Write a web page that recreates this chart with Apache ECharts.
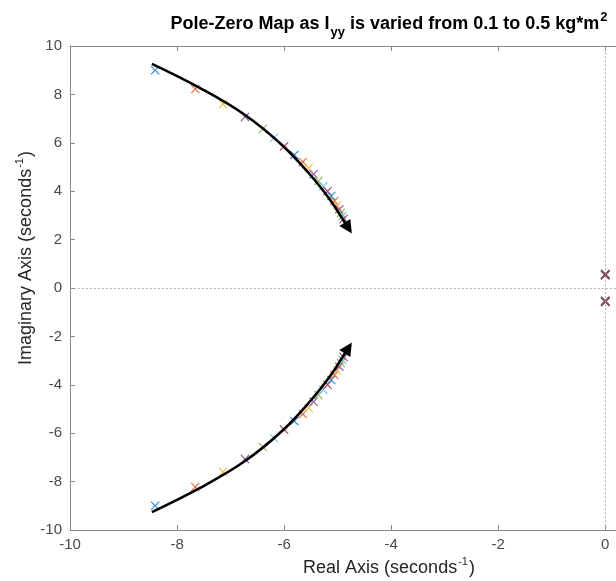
<!DOCTYPE html>
<html>
<head>
<meta charset="utf-8">
<script src="https://cdn.jsdelivr.net/npm/echarts@6/dist/echarts.min.js"></script>
<style>
  html, body { margin: 0; padding: 0; background: #ffffff; }
  #chart { width: 616px; height: 581px; }
</style>
</head>
<body>
<div id="chart"></div>
<script>
// Moment of inertia values (kg*m^2); one pole set is computed for each
const iyyValues = [0.10, 0.12, 0.14, 0.16, 0.18, 0.20, 0.22, 0.24, 0.26, 0.28, 0.30,
                   0.32, 0.34, 0.36, 0.38, 0.40, 0.42, 0.44, 0.46, 0.48, 0.50];

// Fast complex pole pair (upper half-plane; the lower pole is its conjugate)
const branchReal = [-8.41, -7.66, -7.14, -6.73, -6.40, -6.19, -6.00, -5.81, -5.65, -5.54, -5.45,
                    -5.36, -5.27, -5.19, -5.12, -5.06, -5.01, -4.97, -4.94, -4.91, -4.89];
const branchImag = [9.00, 8.22, 7.60, 7.07, 6.57, 6.20, 5.85, 5.50, 5.21, 4.96, 4.70,
                    4.42, 4.20, 4.00, 3.80, 3.60, 3.42, 3.25, 3.10, 2.97, 2.85];

// Slow pole pair sitting on the imaginary axis
const slowReal = [0, 0, 0, 0, 0, 0, 0, 0, 0, 0, 0, 0, 0, 0, 0, 0, 0, 0, 0, 0, 0];
const slowImag = [0.58, 0.58, 0.57, 0.57, 0.57, 0.56, 0.56, 0.56, 0.56, 0.55, 0.55,
                  0.55, 0.55, 0.55, 0.54, 0.54, 0.54, 0.54, 0.54, 0.54, 0.54];

// Direction arrow along the upper branch (lower arrow is mirrored); last point is the tip
const arrowReal = [-8.47, -7.57, -6.73, -6.04, -5.51, -5.14, -4.92, -4.80];
const arrowImag = [9.26, 8.26, 7.15, 5.91, 4.67, 3.64, 2.89, 2.48];

// Axis ranges and tick values
const xRange = [-10, 0.2];
const yRange = [-10, 10];
const xTicks = [-10, -8, -6, -4, -2, 0];
const yTicks = [-10, -8, -6, -4, -2, 0, 2, 4, 6, 8, 10];

// MATLAB default line color order
const colorOrder = ['#0072BD', '#D95319', '#EDB120', '#7E2F8E', '#77AC30', '#4DBEEE', '#A2142F'];

const crossMark = 'path://M0,0.9L0.9,0L5,4.1L9.1,0L10,0.9L5.9,5L10,9.1L9.1,10L5,5.9L0.9,10L0,9.1L4.1,5Z';
const headMark = 'path://M5,0L10,12L0,12Z';
const axisGray = '#8a8a8a';
const labelGray = '#4a4a4a';
const fontFam = 'Liberation Sans, Arial, sans-serif';

const poleSeries = iyyValues.map((iyy, i) => ({
  name: 'Iyy = ' + iyy.toFixed(2),
  type: 'scatter',
  symbol: crossMark,
  symbolSize: 9,
  itemStyle: { color: colorOrder[i % colorOrder.length] },
  z: 3,
  silent: true,
  data: [
    [branchReal[i], branchImag[i]],
    [branchReal[i], -branchImag[i]],
    [slowReal[i], slowImag[i]],
    [slowReal[i], -slowImag[i]]
  ]
}));

const arrowUpper = arrowReal.map((re, k) => [re, arrowImag[k]]);
const arrowLower = arrowReal.map((re, k) => [re, -arrowImag[k]]);
const n = arrowReal.length;

const zeroLines = {
  type: 'line',
  silent: true,
  symbol: 'none',
  z: 1,
  markLine: {
    silent: true,
    symbol: 'none',
    label: { show: false },
    lineStyle: { color: '#9a9a9a', width: 1, type: [1.5, 2.5] },
    data: [{ yAxis: 0 }, { xAxis: 0 }]
  },
  data: []
};

// Smooth arrow shafts (stopping short of the tip so the head stays sharp)
const shafts = [arrowUpper, arrowLower].map(path => ({
  type: 'line',
  silent: true,
  smooth: 0.4,
  showSymbol: false,
  symbol: 'none',
  z: 5,
  lineStyle: { color: '#000000', width: 2.6 },
  data: path.slice(0, n - 1)
}));

// Triangular arrow heads on the last segment of each shaft
const heads = {
  type: 'lines',
  coordinateSystem: 'cartesian2d',
  silent: true,
  z: 6,
  symbol: ['none', headMark],
  symbolSize: [11, 13],
  symbolOffset: [0, 0],
  lineStyle: { color: '#000000', width: 2.6, opacity: 1 },
  data: [
    { coords: [arrowUpper[n - 2], arrowUpper[n - 1]] },
    { coords: [arrowLower[n - 2], arrowLower[n - 1]] }
  ]
};

const chart = echarts.init(document.getElementById('chart'), null, { renderer: 'canvas' });

const tickLabel = { color: labelGray, fontSize: 15, fontFamily: fontFam };

function frameAxis(extra) {
  return Object.assign({
    type: 'value',
    axisLine: { show: true, onZero: false, lineStyle: { color: axisGray, width: 1 } },
    splitLine: { show: false }
  }, extra);
}

chart.setOption({
  animation: false,
  backgroundColor: '#ffffff',
  grid: { left: 70, top: 46, bottom: 51, right: 0 },
  xAxis: [
    frameAxis({
      position: 'bottom', min: xRange[0], max: xRange[1],
      axisTick: { show: true, inside: true, length: 5, lineStyle: { color: axisGray }, customValues: xTicks },
      axisLabel: Object.assign({ margin: 7, customValues: xTicks }, tickLabel)
    }),
    frameAxis({
      position: 'top', min: xRange[0], max: xRange[1],
      axisTick: { show: true, inside: true, length: 5, lineStyle: { color: axisGray }, customValues: xTicks },
      axisLabel: { show: false }
    })
  ],
  yAxis: [
    frameAxis({
      position: 'left', min: yRange[0], max: yRange[1],
      axisTick: { show: true, inside: true, length: 5, lineStyle: { color: axisGray }, customValues: yTicks },
      axisLabel: Object.assign({ margin: 8, customValues: yTicks }, tickLabel)
    })
  ],
  series: [zeroLines].concat(poleSeries, shafts, [heads]),
  graphic: [
    {
      type: 'text', x: 389, y: 21, silent: true,
      style: {
        text: '{t|Pole-Zero Map as I}{sub|yy}{t| is varied from 0.1 to 0.5 kg*m}{sup|2}',
        align: 'center', verticalAlign: 'middle',
        rich: {
          t: { fontSize: 18, fontWeight: 'bold', fontFamily: fontFam, fill: '#000', lineHeight: 21, verticalAlign: 'top', padding: [5, 0, 0, 0] },
          sub: { fontSize: 13, fontWeight: 'bold', fontFamily: fontFam, fill: '#000', lineHeight: 14, verticalAlign: 'top', padding: [15, 0, 0, 1] },
          sup: { fontSize: 13, fontWeight: 'bold', fontFamily: fontFam, fill: '#000', lineHeight: 14, verticalAlign: 'top', padding: [0, 0, 0, 1] }
        }
      }
    },
    {
      type: 'text', x: 389, y: 566, silent: true,
      style: {
        text: '{t|Real Axis (seconds}{sup|-1}{t|)}',
        align: 'center', verticalAlign: 'middle',
        rich: {
          t: { fontSize: 18, fontFamily: fontFam, fill: '#262626', lineHeight: 21, verticalAlign: 'top', padding: [4, 0, 0, 0] },
          sup: { fontSize: 11, fontFamily: fontFam, fill: '#262626', lineHeight: 12, verticalAlign: 'top', padding: [1, 1, 0, 1] }
        }
      }
    },
    {
      type: 'text', x: 24, y: 258, rotation: Math.PI / 2, silent: true,
      style: {
        text: '{t|Imaginary Axis (seconds}{sup|-1}{t|)}',
        align: 'center', verticalAlign: 'middle',
        rich: {
          t: { fontSize: 18, fontFamily: fontFam, fill: '#262626', lineHeight: 21, verticalAlign: 'top', padding: [4, 0, 0, 0] },
          sup: { fontSize: 11, fontFamily: fontFam, fill: '#262626', lineHeight: 12, verticalAlign: 'top', padding: [1, 1, 0, 1] }
        }
      }
    }
  ]
});
</script>
</body>
</html>
